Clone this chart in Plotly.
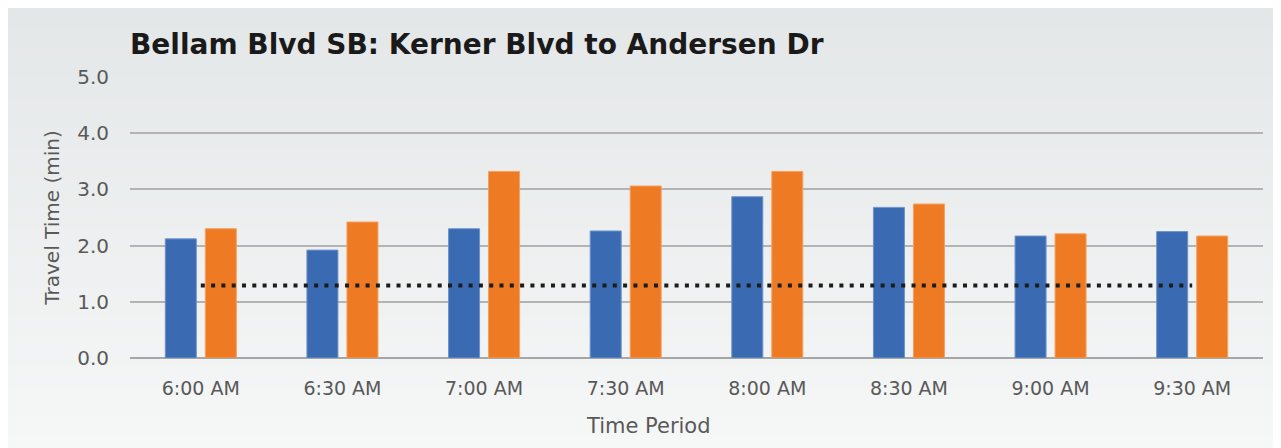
import plotly.graph_objects as go

categories = ["6:00 AM", "6:30 AM", "7:00 AM", "7:30 AM", "8:00 AM", "8:30 AM", "9:00 AM", "9:30 AM"]
series_a = [2.12, 1.92, 2.30, 2.26, 2.87, 2.68, 2.17, 2.25]
series_b = [2.30, 2.42, 3.32, 3.06, 3.32, 2.74, 2.21, 2.17]
reference_level = [1.29] * len(categories)
y_ticks = [0, 1, 2, 3, 4, 5]
y_tick_labels = ["0.0", "1.0", "2.0", "3.0", "4.0", "5.0"]

W, H = 1281, 448
ML, MR, MT, MB = 122, 26, 69, 98
PH = H - MT - MB
PW = W - ML - MR


def px_x(p):
    return (p - ML) / PW


def px_y(p):
    return (H - MB - p) / PH


fig = go.Figure()

fig.add_trace(go.Bar(
    x=categories, y=series_a, name="A",
    marker=dict(color="#3a6ab1", line=dict(color="#6d93cc", width=1)),
))
fig.add_trace(go.Bar(
    x=categories, y=series_b, name="B",
    marker=dict(color="#ee7a24", line=dict(color="#f5a05f", width=1)),
))
fig.add_trace(go.Scatter(
    x=categories, y=reference_level, mode="lines",
    line=dict(color="#1c1c1c", width=4, dash="4px,6.3px"),
))

# gradient background panel
shapes = []
top, bottom = 0, H
n = 45
c0 = (228, 231, 232)
c1 = (246, 247, 247)
step = (bottom - top) / n
for i in range(n):
    t = i / (n - 1)
    c = tuple(round(c0[k] + (c1[k] - c0[k]) * t) for k in range(3))
    y0p = top + i * step
    y1p = min(top + (i + 1) * step + 0.6, H)
    shapes.append(dict(
        type="rect", xref="paper", yref="paper", layer="below",
        x0=px_x(0), x1=px_x(W), y0=px_y(y1p), y1=px_y(y0p),
        fillcolor="rgb(%d,%d,%d)" % c, line=dict(width=0),
    ))

font_family = "DejaVu Sans"

fig.update_layout(
    width=W, height=H,
    margin=dict(l=ML, r=MR, t=MT, b=MB),
    paper_bgcolor="rgb(237,239,240)",
    plot_bgcolor="rgba(0,0,0,0)",
    barmode="group",
    bargap=0.435,
    bargroupgap=0.225,
    showlegend=False,
    shapes=shapes,
    title=dict(
        text="<b>Bellam Blvd SB: Kerner Blvd to Andersen Dr</b>",
        font=dict(family="DejaVu Sans", size=28, color="#1a1a1a"),
        xref="paper", x=0, xanchor="left",
        yref="container", y=1 - 36.5 / H, yanchor="middle",
    ),
    xaxis=dict(
        showgrid=False, zeroline=False, showline=False,
        tickfont=dict(family=font_family, size=19, color="#595959"),
        ticks="outside", ticklen=13, tickcolor="rgba(0,0,0,0)",
    ),
    yaxis=dict(
        range=[0, 5],
        tickvals=y_ticks, ticktext=y_tick_labels,
        showgrid=True, gridcolor="#b3b3b3", gridwidth=1.5,
        zeroline=True, zerolinecolor="#a6a6a6", zerolinewidth=2,
        showline=False,
        tickfont=dict(family=font_family, size=20, color="#595959"),
        ticks="outside", ticklen=16, tickcolor="rgba(0,0,0,0)",
        title=dict(text="Travel Time (min)", font=dict(family=font_family, size=20, color="#595959"), standoff=12),
    ),
    annotations=[dict(
        text="Time Period", showarrow=False,
        xref="paper", yref="paper",
        x=px_x(W / 2), y=px_y(418), xanchor="center", yanchor="middle",
        font=dict(family=font_family, size=21, color="#595959"),
    )],
)

fig.write_html("out.html")
